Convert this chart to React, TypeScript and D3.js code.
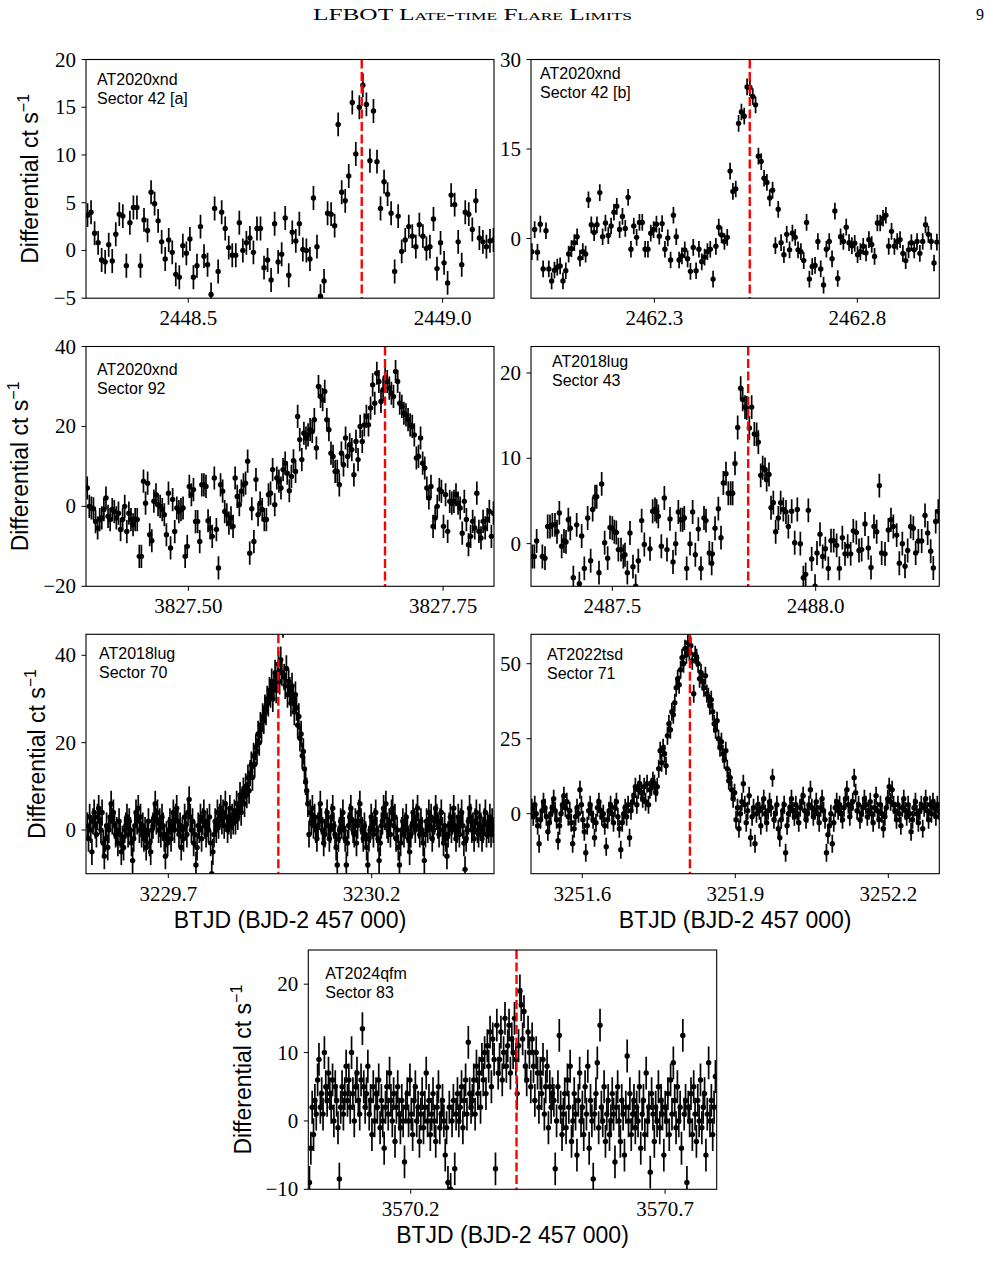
import React from "react";
import * as d3 from "d3";

// ---------- data ----------
// AT2020xnd, Sector 42 [a]  (10-min bins)
const p1Times = [2448.302, 2449.1];
const p1Values = [
  3.7, 4.0, 1.8, 0.8, -1.0, -1.2, 0.6, -1.1, 1.7, 3.8, 3.6, -1.6, 2.9, 4.5, 4.5, -1.6, 3.2, 2.1, 6.1, 4.9,
  3.1, 0.9, -0.9, 1.1, -0.2, -2.5, -2.8, 0.5, -0.3, 1.2, -2.8, -1.6, 2.5, -0.6, -1.5, -4.6, 4.4, -2.2, 4.0, 2.3,
  0.3, -0.5, -0.5, 2.9, 0.0, 0.8, 1.3, -0.2, 2.3, 2.3, -1.8, -1.0, -3.1, 2.8, -1.2, -0.4, 3.4, -2.6, 1.9, 1.0,
  2.8, 0.1, 0.0, -0.9, 5.5, 0.4, -4.8, -3.2, 3.9, 3.8, 2.6, 13.2, 6.1, 5.2, 7.8, 15.5, 10.1, 15.0, 17.3, 15.3,
  9.4, 14.6, 9.3, 4.4, 7.2, 5.9, 3.9, -2.2, 3.6, -0.1, 1.1, 2.5, 1.5, 0.4, 2.7, 1.5, 0.2, 0.4, 3.3, -1.9,
  0.8, -1.3, -3.4, 5.8, 4.8, 0.9, -1.5, 4.0, 3.8, 2.2, 5.2, 1.3, 0.9, 0.4, 1.0, 1.1,
];

// AT2020xnd, Sector 42 [b]
const p2Times = [2461.998, 2462.996];
const p2Values = [
  -2.2, 1.5, -2.3, 2.4, -5.1, 1.3, -5.1, -7.1, -5.3, -4.8, -4.6, -7.1, -5.4, -2.6, -1.7, -0.7, 0.3, -3.3, -2.2, -2.6,
  6.5, 2.3, 1.0, 2.3, 7.7, 0.3, 2.6, 0.5, 2.1, 4.4, 5.4, 1.5, 3.7, 1.7, 6.9, -1.8, 2.1, 0.2, 2.7, 2.7,
  -1.8, -1.8, 0.9, 1.5, 2.4, 0.4, 2.5, -1.8, 0.1, -3.6, 3.9, 0.3, -3.6, -2.9, -1.9, -3.4, -5.5, -1.5, -5.4, -1.8,
  -3.9, -3.1, -2.2, -1.8, -6.8, -1.3, 1.9, 0.6, -0.5, 0.2, 11.3, 7.9, 8.3, 19.3, 21.2, 20.5, 25.4, 25.3, 23.8, 22.4,
  13.8, 12.9, 10.1, 9.4, 6.8, 8.1, -1.2, 4.9, -0.7, -2.7, 0.7, -1.9, 0.9, 0.2, -1.9, -2.2, -3.7, 2.7, -6.8, -4.7,
  -4.5, -0.5, -5.1, -7.8, -1.8, -0.5, -3.4, 4.6, -6.7, 0.3, -0.5, 1.9, -0.7, -1.2, -0.8, -2.7, -2.2, -1.3, -2.4, -0.2,
  -1.0, -3.0, 2.6, 2.6, 3.4, 3.9, -1.3, 1.2, -1.3, -0.5, -0.2, -2.5, -3.7, -1.9, -0.7, -1.9, -0.5, -2.5, -0.5, 2.3,
  0.7, -0.5, -4.1, -0.6,
];

// AT2020xnd, Sector 92 (200 s)
const p3Times = [3827.4007, 3827.7995];
const p3Values = [
  4.6, 0, -0.4, -0.6, -3.8, -5.4, -3.3, -2.9, -0.8, 2.1, -2.5, -3.3, -0.8, -1.3, -2.9, -1.7, -5.8, -3.3, 0, -6.3,
  -1.7, -3.3, -4.6, -3.3, -3.3, -12.5, -12.5, 6.3, 0.8, 5.8, -7.1, -8.6, 1.3, 2.9, 0.4, 0, -0.8, -2.1, -7.1, 3.3,
  -10.4, 1.7, -6.3, -0.4, -1.3, -0.8, -0.4, -12.5, -10, 5.0, 2.9, 4.2, -3.8, -3.8, -8.8, 5.4, 5.4, 5.0, -3.6, -5.4,
  -7.5, 7.1, -5.8, -15.4, 5.4, 3.8, -1.3, -2.1, -4.2, -2.9, -5.0, 7.1, 2.5, 0.4, 3.8, 5.4, 5.8, 11.3, -11.7, -0.6,
  -8.8, 6.7, -2.1, 0.8, -0.8, -3.3, -3.3, 2.9, 3.3, 9.2, 0.4, 7.1, 6.3, 4.6, 9.2, 10.8, 8.3, 3.9, 7.5, 11.4,
  8.75, 22.5, 16.7, 11.7, 18.3, 17.1, 17.9, 19.2, 18.75, 21.7, 14.6, 30, 27.5, 26.7, 28.75, 21.7, 19.2, 13.3, 12.5, 8.75,
  8.75, 5.4, 13.3, 10.4, 17.1, 12.5, 15.4, 14.2, 7.9, 16.25, 11.7, 20, 16.25, 20.4, 22.5, 20.4, 24.6, 30.4, 25.8, 33.3,
  31.25, 26.25, 29.2, 32.25, 31.25, 29.6, 28.3, 27.5, 33.75, 31.25, 25.8, 25, 23.3, 22.9, 21.7, 20.4, 20, 17.9, 12.1, 12.5,
  17.1, 10.8, 9.6, 4.6, 2.1, 5.0, -5.0, -2.9, 0, 4.2, 3.75, -5.0, 2.9, -6.25, 1.25, 0.8, 1.25, 2.9, 0.8, -0.4,
  -6.7, 1.25, -3.3, -9.6, -7.5, -3.75, -5.4, 3.3, -6.25, -7.9, -3.75, -5.4, -3.3, -1.25, -7.5, -1.7,
];

// AT2018lug, Sector 43 (times as offsets from 2487.3)
const p4Base = 2487.3;
const p4Offsets = [
  0.0033, 0.0082, 0.0139, 0.0279, 0.0344, 0.041, 0.0467, 0.0525, 0.059, 0.0639, 0.0697, 0.0754, 0.0811, 0.0861, 0.0918,
  0.0967, 0.1041, 0.1123, 0.1189, 0.1246, 0.1311, 0.1393, 0.1467, 0.1516, 0.1574, 0.1615, 0.1672, 0.1738, 0.1811, 0.1885,
  0.1943, 0.2, 0.2049, 0.2098, 0.2148, 0.2213, 0.227, 0.2311, 0.2369, 0.2434, 0.2508, 0.2574, 0.2639, 0.2721, 0.2787,
  0.2926, 0.2992, 0.3049, 0.309, 0.3131, 0.3205, 0.3279, 0.3344, 0.3418, 0.3492, 0.3557, 0.3623, 0.368, 0.373, 0.377,
  0.3828, 0.391, 0.3975, 0.4041, 0.4115, 0.418, 0.4254, 0.4303, 0.4385, 0.4443, 0.4459, 0.4525, 0.4607, 0.4672, 0.473,
  0.4795, 0.4852, 0.491, 0.4959, 0.5016, 0.5082, 0.5156, 0.5205, 0.5262, 0.5303, 0.5369, 0.5426, 0.5492, 0.5549, 0.559,
  0.5648, 0.5697, 0.5754, 0.5795, 0.5852, 0.5902, 0.5959, 0.6016, 0.6082, 0.6139, 0.6205, 0.627, 0.6328, 0.641, 0.6484,
  0.6549, 0.6623, 0.6697, 0.6754, 0.682, 0.6902, 0.6984, 0.7033, 0.7107, 0.7172, 0.7238, 0.7311, 0.7377, 0.7443, 0.7516,
  0.7582, 0.7656, 0.7721, 0.7787, 0.7861, 0.7926, 0.8, 0.8066, 0.8131, 0.8213, 0.8295, 0.8361, 0.8434, 0.85, 0.8566,
  0.8623, 0.8705, 0.8787, 0.8852, 0.891, 0.8992, 0.9057, 0.9131, 0.9197, 0.9262, 0.9336, 0.9402, 0.9459, 0.9525, 0.9607,
  0.9689, 0.9754, 0.9828, 0.9893, 0.9951, 1.0016,
];
const p4Values = [
  -1.5, -1.5, 0.3, -1.5, -1.7, 2.0, 2.0, 2.2, 2.2, 1.4, 3.6, -0.3, 0.3, 0.2, 2.8,
  1.8, -4.0, 2.2, -4.7, 0.9, -2.9, 3.0, -2.0, 4.0, 5.5, 5.5, -3.4, 7.0, 0.1, -1.7,
  1.9, 1.8, 1.4, 1.3, -0.7, -0.7, -1.5, -1.3, -3.4, 1.25, -2.7, -5.0, -2.0, 2.7, -0.1,
  -0.6, 3.8, 4.0, 3.8, 3.2, -0.3, 5.35, -0.7, 2.9, -2.15, 0, 3.7, 2.8, 2.8, 3.0,
  -2.9, 0, 3.7, -1.3, 1.7, -2.9, 3.0, 2.7, -1.1, -2.3, -1.2, 1.8, 4.1, 0.7, 7.1,
  8.2, 5.9, 5.9, 5.9, 9.4, 13.6, 18.2, 16.9, 16.0, 15.9, 13.55, 16.0, 12.85, 12.8, 11.9,
  8.0, 8.9, 8.7, 7.5, 8.1, 4.2, 4.8, 1.4, 3.0, 4.8, 4.0, 3.7, 2.0, 3.8, 0.1,
  4.0, 0, -4.0, -3.6, 3.9, -1.8, -5.0, -1.1, 1.1, -1.5, -0.6, -2.9, 0.35, 0.35, -0.2,
  -2.9, 0.7, -1.2, -0.3, -1.2, 1.5, 1.3, -0.8, -0.7, 2.3, -0.5, -2.8, 2.0, 1.4, 6.8,
  -1.1, -1.2, 1.6, 2.8, 2.0, 1.0, -2.3, 0, -2.65, -0.8, 2.0, 1.8, -1.1, 0.3, 0.3,
  3.3, 1.25, -0.9, -2.85, 2.6, 3.8,
];

// AT2018lug, Sector 70
const p5Times = [3229.501, 3230.499];
const p5Values = [
  1, -2, 3, 0, -5, 2, 4, 1, -1, 3, 5, 2, 0, 4, -3, -6, -2, 1, -4, 0,
  3, 6, 2, 4, 1, -1, 0, -3, 2, -1, -5, -2, -4, 0, 1, 3, -1, 2, 0, -3,
  -7, -2, 1, 4, 2, 5, 0, 3, -1, 1, -2, 0, -4, -1, 2, -3, -5, 0, 1, 3,
  6, 2, 4, 0, 2, -1, 3, 1, -2, -6, -1, -3, 0, 2, -2, 1, 4, 0, 3, 5,
  2, -1, 1, -4, 0, -2, 3, 1, -1, 4, 7, 3, 0, 2, -3, -1, -8, -4, 1, 0,
  3, -2, 2, 4, 1, -1, 2, 0, 3, -3, -10, -5, -1, 2, 0, 4, 1, 3, 5, 2,
  4, 1, 6, 3, 0, 2, 5, 1, 3, 2,
  4, 2, 6, 3, 5, 8, 4, 7, 9, 6, 10, 8, 12, 9, 13, 15, 12, 17, 15, 19,
  18, 22, 20, 24, 23, 26, 25, 28, 27, 30,
  29, 32, 31, 34, 30, 33, 36, 32, 35, 38, 34, 39, 36, 47, 35, 33, 37, 31, 34, 32,
  29, 33, 30, 27, 31,
  28, 24, 26, 21, 22, 17, 18, 14, 11, 9, 6, -1,
  4, 2, 5, 1, 3, 0, -2, 1, 3, 6, 2, 0, -3, -1, 2, 4, 1, -2, 0, 3,
  5, 1, -1, -4, -8, -2, 0, 2, 1, 4, 0, -2, -8, -3, 1, 3, 5, 2, 0, -1,
  2, -3, 1, 4, 6, 2, 0, -2, 1, -1, -4, -8, -2, 0, 3, 1, -1, 2, 4, 0,
  -2, -7, -3, 1, 2, 5, 3, 6, 1, 0, 2, -1, 4, 5, 1, 3, -2, 0, -4, -8,
  -3, 0, 2, -1, 1, 3, 0, -2, -5, -1, 1, 4, 2, 0, 3, 5, 1, -1, 2, 0,
  -3, -7, -1, 2, 0, 4, 1, 3, -2, 0, 2, 5, 3, 1, -1, 2, 4, 0, -3, 1,
  -2, -6, -1, 1, 3, 0, 2, 5, 1, -2, 0, 3, -1, 2, 4, 1, -3, -9, -2, 0,
  2, 5, 3, 0, 1, -2, 2, 4, 0, -1, 3, 1, -2, 0, 2, 4, -1, 1, 0, 3,
  -1, 2, 0,
];

// AT2022tsd, Sector 71
const p6Times = [3251.501, 3252.299];
const p6Values = [
  2, -1, 3, 0, -4, -10, -2, 1, 4, 2, -1, -6, -3, 0, 2, 5, 1, -2, -9, -4,
  0, 3, 6, 2, 4, -1, 1, -3, -10, -5, -1, 2, 0, 8, 3, -2, -6, -13, -4, 1,
  3, 0, -2, -8, -3, 2, 4, 1, -1, 0, -4, -11, -2, 1, 3, 0, -3, 2, 4, -1,
  -5, -12, -3, 0, 2, -1, 3, -8, 1, 4,
  6, 9, 3, 8, 10, 7, 5, 9, 4, 10, 3, 8, 9, 11, 10, 7, 9,
  15, 21, 17, 22, 20, 16, 26, 30, 28, 34, 33, 37, 42, 45, 43, 48, 52, 50,
  55, 53, 57, 54, 56, 51, 40, 53,
  52, 50, 45, 47, 44, 42, 46, 40, 39, 36, 38, 34, 30, 28, 31, 25, 22, 24, 20, 18, 21, 15, 11, 12, 8, 5, 7,
  -2, 2, -5, 0, 4, 10, 3, -3, 1, 6, -8, -1, 2, -10, 0, 3, 1, -4, 2, 5,
  0, -3, 1, 4, 2, 12, -2, 0, 3, -5, -8, -2, 1, 3, -13, -4, 0, 2, 5, 1,
  -1, 3, 0, -3, 2, 4, 6, 1, -2, 0, 3, 8, 2, -1, 1, 4, 0, -3, 2, 5,
  1, -2, -13, -7, -4, 0, -10, -3, 2, 4, 1, 3, 0, -2, 2, 5, 8, 3, -1, 2,
  4, 12, 7, 1, 3, -2, 0, 2, 5, 3, -1, 1, 4, 0, -3, 2, 6, 1, -2, 3,
  0, -5, -1, 2, 5, 9, 4, 8, 3, 1, -2, 3, 0, -4, 2, 5, 1, -1, 3, 0,
  -6, -2, 2, 4, 0, -3, 1, 3, -5, 2, 5, 1, -2, 3, 0, 4, 2, -1, 3, 1,
];

// AT2024qfm, Sector 83
const p7Times = [3570.001, 3570.799];
const p7Values = [
  -9, -4, 2, -2, 3, 1, 6, 9, 2, 4, 1, 10, 5, 3, 7, 4, 2, 6, 0, 5,
  3, -1, -8.5, 2, 5, 1, 4, 8, 3, 6, 2, 10, 4, 0, 5, 7, 3, 1, 6, 13.5,
  5, 2, 4, 8, 1, 3, -2, 5, 0, 4, 2, 6, -1, 3, 0, -4, 2, 5, 1, 7,
  3, 0, 4, -3, 2, 5, 1, -1, 3, 0, -6, 2, 4, 0, 6, 1, -2, 3, 5, 0,
  2, -3, 1, 4, -1, 2, 7, 0, 3, -2, 1, 4, 0, -3, 2, 5, -1, 1, 3, 0,
  -5, -1, -9, 2, -10, 0, 3, -7, 1, 4, 0, 2, 5, -1, 3, 6, 1, 11.5, 4, 2,
  3, 6, 1, 8, 4, 7, 2, 9, 6, 10, 4, 11, 8, 13, 5, 12, 9, -7, 14, 7,
  9, 13, 6, 10, 15, 8, 11, 14, 7, 12, 10, 15, 9, 4, 11, 19, 17, 12, 16, 8,
  6, 13, 10, 5, 12, 8, 3, 10, 7, 2, 7, 4, 9, 1, 5, 8, -1, 5, 2, 4,
  3, -7, 0, 5, 12.5, 2, -2, 1, 4, -1, 6, 2, 8, -3, 0, 4, 1, -5, 3, 7,
  0, 2, -2, 5, 1, 8, -4, 3, 0, -8.5, 1, 4, 8.5, -1, 14, 2, 0, 5, -3, 1,
  3, -2, 0, 4, 1, -6, 2, 5, 0, -3, 3, 1, -5, 2, 9.5, 0, 4, -2, 1, 3,
  -1, 2, 0, 5, -4, 1, 3, -2, 7, 0, 2, -7.5, 4, 1, -3, 2, 0, 5, -1, 3,
  1, -5, 2, 0, 4, -2, 6, 1, 8.5, 3, -1, 5, 0, 2, -4, 12.5, 1, 3, -9, 2,
  0, 4, -2, 5, 1, -3, 3, 0, 6, -1, 2, 4, -5, 1, 8.5, 0, 3, -2, 2, 6.5,
];

const sourceNames = ["AT2020xnd", "AT2020xnd", "AT2020xnd", "AT2018lug", "AT2018lug", "AT2022tsd", "AT2024qfm"];
const sectorNames = ["Sector 42 [a]", "Sector 42 [b]", "Sector 92", "Sector 43", "Sector 70", "Sector 71", "Sector 83"];
const flareTimes = [2448.841, 2462.535, 3827.693, 2487.834, 3229.9705, 3251.811, 3570.408];
const errSizes = [1.25, 1.4, 2.9, 1.4, 3.0, 3.0, 2.4];
const xDomains = [[2448.299, 2449.101], [2461.996, 2463.002], [3827.3995, 3827.8], [2487.3, 2488.304], [3229.4976, 3230.5007], [3251.4994, 3252.3], [3569.9987, 3570.8015]];
const yDomains = [[-5, 20], [-10, 30], [-20, 40], [-5, 23.1], [-10, 44.8], [-20, 59.8], [-10, 25]];
const xTickValues = [[2448.5, 2449.0], [2462.3, 2462.8], [3827.5, 3827.75], [2487.5, 2488.0], [3229.7, 3230.2], [3251.6, 3251.9, 3252.2], [3570.2, 3570.7]];
const xTickDecimals = [1, 1, 2, 1, 1, 1, 1];
const yTickValues = [[-5, 0, 5, 10, 15, 20], [0, 15, 30], [-20, 0, 20, 40], [0, 10, 20], [0, 20, 40], [0, 25, 50], [-10, 0, 10, 20]];

const seriesValues = [p1Values, p2Values, p3Values, p4Values, p5Values, p6Values, p7Values];
const seriesSpans = [p1Times, p2Times, p3Times, null, p5Times, p6Times, p7Times];

// evenly spaced cadence between first and last timestamp (panel 4 has its own times)
const seriesTimes = (k: number): number[] => {
  if (k === 3) return p4Offsets.map((o) => p4Base + o);
  const v = seriesValues[k];
  const [a, b] = seriesSpans[k] as number[];
  return v.map((_, i) => a + ((b - a) * i) / (v.length - 1));
};

// ---------- layout ----------
const boxes = [
  { left: 86, top: 59.5, w: 408, h: 238.7, ylab: 48.5, tx: 11, ty: 25.5, xlab: false },
  { left: 531, top: 59.5, w: 408.3, h: 238.7, ylab: 0, tx: 9, ty: 19, xlab: false },
  { left: 86, top: 346.5, w: 408, h: 239.8, ylab: 58.5, tx: 11, ty: 28.5, xlab: false },
  { left: 531, top: 346.5, w: 408.3, h: 239.8, ylab: 0, tx: 21, ty: 20.5, xlab: false },
  { left: 86, top: 634.3, w: 408, h: 239.4, ylab: 41.5, tx: 13, ty: 25, xlab: true },
  { left: 531, top: 634.3, w: 408.3, h: 239.4, ylab: 0, tx: 16, ty: 25.5, xlab: true },
  { left: 308.3, top: 950, w: 408.4, h: 239.3, ylab: 57.8, tx: 17, ty: 29, xlab: true },
];

const SERIF = "'Liberation Serif', 'DejaVu Serif', serif";
const SANS = "'Liberation Sans', Arial, sans-serif";

function Panel({ k }: { k: number }) {
  const b = boxes[k];
  const x = d3.scaleLinear().domain(xDomains[k]).range([b.left, b.left + b.w]);
  const y = d3.scaleLinear().domain(yDomains[k]).range([b.top + b.h, b.top]);
  const times = seriesTimes(k);
  const vals = seriesValues[k];
  const err = errSizes[k];
  const clipId = `clip-${k}`;
  const bottom = b.top + b.h;
  const fmt = d3.format(`.${xTickDecimals[k]}f`);
  const yfmt = (v: number) => (v < 0 ? "\u2212" + Math.abs(v) : String(v));
  return (
    <g>
      <defs>
        <clipPath id={clipId}>
          <rect x={b.left} y={b.top} width={b.w} height={b.h} />
        </clipPath>
      </defs>
      <g clipPath={`url(#${clipId})`}>
        {vals.map((v, i) => (
          <line key={"e" + i} x1={x(times[i])} x2={x(times[i])} y1={y(v - err)} y2={y(v + err)} stroke="#000" strokeWidth={1.7} />
        ))}
        {vals.map((v, i) => (
          <circle key={"c" + i} cx={x(times[i])} cy={y(v)} r={2.7} fill="#000" />
        ))}
        <line x1={x(flareTimes[k])} x2={x(flareTimes[k])} y1={b.top} y2={bottom} stroke="#ff0000" strokeWidth={2.4} strokeDasharray="9,3.5" />
      </g>
      <rect x={b.left} y={b.top} width={b.w} height={b.h} fill="none" stroke="#000" strokeWidth={1.1} />
      {xTickValues[k].map((t) => (
        <g key={"xt" + t}>
          <line x1={x(t)} x2={x(t)} y1={bottom} y2={bottom + 4.5} stroke="#000" strokeWidth={1} />
          <text x={x(t)} y={bottom + 27} textAnchor="middle" fontFamily={SERIF} fontSize={21} fill="#000">
            {fmt(t)}
          </text>
        </g>
      ))}
      {yTickValues[k].map((v) => (
        <g key={"yt" + v}>
          <line x1={b.left - 4.5} x2={b.left} y1={y(v)} y2={y(v)} stroke="#000" strokeWidth={1} />
          <text x={b.left - 10} y={y(v) + 7} textAnchor="end" fontFamily={SERIF} fontSize={21} fill="#000">
            {yfmt(v)}
          </text>
        </g>
      ))}
      <text x={b.left + b.tx} y={b.top + b.ty} fontFamily={SANS} fontSize={16} fill="#000">
        {sourceNames[k]}
      </text>
      <text x={b.left + b.tx} y={b.top + b.ty + 19} fontFamily={SANS} fontSize={16} fill="#000">
        {sectorNames[k]}
      </text>
      {b.ylab > 0 && (
        <text
          transform={`translate(${b.left - b.ylab},${b.top + b.h / 2}) rotate(-90)`}
          textAnchor="middle"
          fontFamily={SANS}
          fontSize={23}
          fill="#000"
        >
          Differential ct s
          <tspan fontSize={16} dy={-9}>{"\u22121"}</tspan>
        </text>
      )}
      {b.xlab && (
        <text x={b.left + b.w / 2} y={bottom + 54} textAnchor="middle" fontFamily={SANS} fontSize={23} fill="#000">
          BTJD (BJD-2 457 000)
        </text>
      )}
    </g>
  );
}

export default function App() {
  return (
    <div style={{ position: "absolute", left: 0, top: 0, background: "#fff" }}>
      <svg width={991} height={1280} viewBox="0 0 991 1280">
        <rect x={0} y={0} width={991} height={1280} fill="#fff" />
        <text x={313} y={20} fontFamily={SERIF} fontSize={16} textLength={319} lengthAdjust="spacingAndGlyphs" style={{ fontVariant: "small-caps" }}>
          LFBOT Late-time Flare Limits
        </text>
        <text x={976} y={20} fontFamily={SERIF} fontSize={16}>
          9
        </text>
        {boxes.map((_, k) => (
          <Panel key={k} k={k} />
        ))}
      </svg>
    </div>
  );
}
